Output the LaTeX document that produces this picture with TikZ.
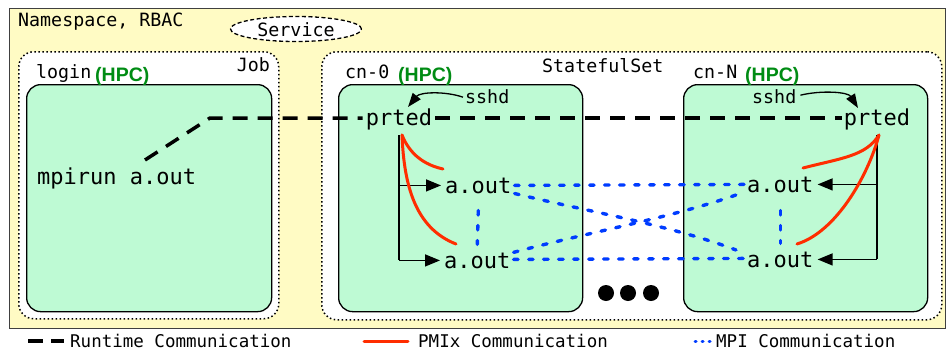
\documentclass[tikz,border=0pt]{standalone}
\usepackage{fontspec}
\setmainfont{DejaVu Sans Mono}
\newfontfamily\hpcfont{Liberation Sans}
\usetikzlibrary{shapes.geometric,arrows.meta,calc}
\definecolor{nsyellow}{RGB}{255,251,196}
\definecolor{podgreen}{RGB}{190,250,212}
\definecolor{pmixred}{RGB}{255,45,0}
\definecolor{mpiblue}{RGB}{0,60,255}
\definecolor{hpcgreen}{RGB}{0,140,20}
\tikzset{
 bigtxt/.style={font=\fontsize{22}{26}\selectfont, inner sep=0pt},
 smalltxt/.style={font=\fontsize{18.3}{22}\selectfont, inner sep=0pt},
 legtxt/.style={font=\fontsize{17.5}{20}\selectfont, inner sep=0pt},
 hpc/.style={font=\hpcfont\bfseries\fontsize{19.5}{22}\selectfont, text=hpcgreen, inner sep=0pt},
 podbox/.style={draw=black, line width=1.3pt, fill=podgreen, rounded corners=14pt, anchor=north west, inner sep=0pt},
 ctlbox/.style={draw=black, line width=1.5pt, dash pattern=on 1.5pt off 2.5pt, fill=white, rounded corners=15pt, anchor=north west, inner sep=0pt},
 runtime/.style={line width=3.5pt, dash pattern=on 15pt off 10pt},
 pmix/.style={draw=pmixred, line width=3pt, line cap=round},
 mpi/.style={draw=mpiblue, line width=3.4pt, line cap=round, dash pattern=on 4.5pt off 10.5pt},
 treeline/.style={line width=1.4pt},
 treearrow/.style={line width=1.4pt, -{Triangle[length=15pt,width=12pt]}},
 sshdarrow/.style={line width=1.3pt, -{Triangle[length=14pt,width=10pt]}},
 bigdot/.style={circle, fill=black, minimum size=16pt, inner sep=0pt},
}
\begin{document}
\begin{tikzpicture}[x=1pt,y=-1pt]
\useasboundingbox (0,0) rectangle (948,351);
% outer namespace
\node[draw=black!75, line width=1.3pt, fill=nsyellow, anchor=north west, minimum width=936pt, minimum height=320pt, inner sep=0pt] (ns) at (9,8) {};
\node[smalltxt, anchor=base west] (nslbl) at (18,26) {Namespace, RBAC};
\node[ellipse, draw=black, line width=1.3pt, dash pattern=on 4pt off 2.5pt, fill=white, minimum width=131pt, minimum height=25pt, inner sep=0pt] (svcshape) at (296,29) {};
\node[smalltxt, anchor=base] (svc) at (296,36) {Service};
% controllers
\node[ctlbox, minimum width=260pt, minimum height=267pt] (job) at (18,51) {};
\node[ctlbox, minimum width=620pt, minimum height=268pt] (sts) at (321,51) {};
\node[smalltxt, anchor=base east] (joblbl) at (270,71) {Job};
\node[smalltxt, anchor=base west] (stslbl) at (542,72) {StatefulSet};
% pods
\node[podbox, minimum width=245pt, minimum height=227pt] (loginbox) at (26,84) {};
\node[podbox, minimum width=244pt, minimum height=227pt] (cn0box) at (338,84) {};
\node[podbox, minimum width=244pt, minimum height=227pt] (cnNbox) at (683,84) {};
\node[smalltxt, anchor=base west] (loginlbl) at (36,78) {login};
\node[hpc, anchor=base west] (hpc1) at (95,81) {(HPC)};
\node[smalltxt, anchor=base west] (cn0lbl) at (345,78) {cn-0};
\node[hpc, anchor=base west] (hpc2) at (398,81) {(HPC)};
\node[smalltxt, anchor=base west] (cnNlbl) at (693,78) {cn-N};
\node[hpc, anchor=base west] (hpc3) at (745,81) {(HPC)};
% processes
\node[bigtxt, anchor=base west] (mpirun) at (37,184) {mpirun a.out};
\node[bigtxt, anchor=base] (prted0) at (399,125) {prted};
\node[bigtxt, anchor=base] (prtedN) at (877,125) {prted};
\node[smalltxt, anchor=base west] (sshd0) at (465,103) {sshd};
\node[smalltxt, anchor=base west] (sshdN) at (752,103) {sshd};
\node[bigtxt, anchor=base west] (aout0a) at (445,193) {a.out};
\node[bigtxt, anchor=base west] (aout0b) at (444,268) {a.out};
\node[bigtxt, anchor=base west] (aoutNa) at (747,192) {a.out};
\node[bigtxt, anchor=base west] (aoutNb) at (747,267) {a.out};
% runtime communication
\coordinate (rtstart) at (145,160);
\coordinate (rtbend) at (210,118);
\draw[runtime] (rtstart) -- (rtbend) -- ($(rtbend -| prted0.west)+(-3,0)$);
\draw[runtime] ($(rtbend -| prted0.east)+(3,0)$) -- ($(rtbend -| prtedN.west)+(-2,0)$);
% sshd arrows
\draw[sshdarrow] ($(sshd0.west)+(-2,1)$) .. controls (445,91) and (420,92) .. (408,107);
\draw[sshdarrow] ($(sshdN.east)+(4,-1)$) .. controls (822,90) and (848,92) .. (858,108);
% tree cn-0
\coordinate (t0) at (399,135);
\draw[treeline] (t0) -- (t0 |- aout0b.west);
\draw[treearrow] (t0 |- aout0a.west) -- ($(aout0a.west)+(-4,0)$);
\draw[treearrow] (t0 |- aout0b.west) -- ($(aout0b.west)+(-4,0)$);
% tree cn-N
\coordinate (tN) at (877,135);
\draw[treeline] (tN) -- (tN |- aoutNb.east);
\draw[treearrow] (tN |- aoutNa.east) -- ($(aoutNa.east)+(4,0)$);
\draw[treearrow] (tN |- aoutNb.east) -- ($(aoutNb.east)+(4,0)$);
% PMIx
\coordinate (r0) at (402,135);
\coordinate (rN) at (879,135);
\draw[pmix] (r0) .. controls (410,155) and (425,165) .. (443,169);
\draw[pmix] (r0) .. controls (404,185) and (415,228) .. (456,244);
\draw[pmix] (rN) .. controls (866,156) and (842,158) .. (803,168);
\draw[pmix] (rN) .. controls (868,176) and (836,232) .. (797,244);
% MPI
\draw[mpi] ($(aout0a.east)+(3,0)$) -- ($(aoutNa.west)+(-3,0)$);
\draw[mpi] ($(aout0b.east)+(3,-1)$) -- ($(aoutNb.west)+(-3,-1)$);
\draw[mpi] ($(aout0a.south east)+(3,0)$) .. controls (590,212) and (670,225) .. (736,250);
\draw[mpi] ($(aout0b.north east)+(3,0)$) .. controls (590,232) and (670,218) .. (736,195);
\draw[mpi] ($(aout0a.south)+(0,17)$) -- ($(aout0b.north)+(0,-8)$);
\draw[mpi] ($(aoutNa.south)+(0,18)$) -- ($(aoutNb.north)+(0,-8)$);
% dots
\node[bigdot] (dot1) at (606,293) {};
\node[bigdot] (dot2) at (628,293) {};
\node[bigdot] (dot3) at (651,293) {};
% legend
\coordinate (lg1a) at (28,341); \coordinate (lg1b) at (64,341);
\draw[line width=3.5pt, dash pattern=on 15pt off 8pt] (lg1a) -- (lg1b);
\node[legtxt, anchor=west] (lgt1) at (70,340.5) {Runtime Communication};
\coordinate (lg2a) at (364,341); \coordinate (lg2b) at (408,341);
\draw[pmix] (lg2a) -- (lg2b);
\node[legtxt, anchor=west] (lgt2) at (418,340.5) {PMIx Communication};
\coordinate (lg3a) at (695,341); \coordinate (lg3b) at (712,341);
\draw[mpiblue, line width=3pt, line cap=round, dash pattern=on 1pt off 6pt] (lg3a) -- (lg3b);
\node[legtxt, anchor=west] (lgt3) at (716,340.5) {MPI Communication};
\end{tikzpicture}
\end{document}
